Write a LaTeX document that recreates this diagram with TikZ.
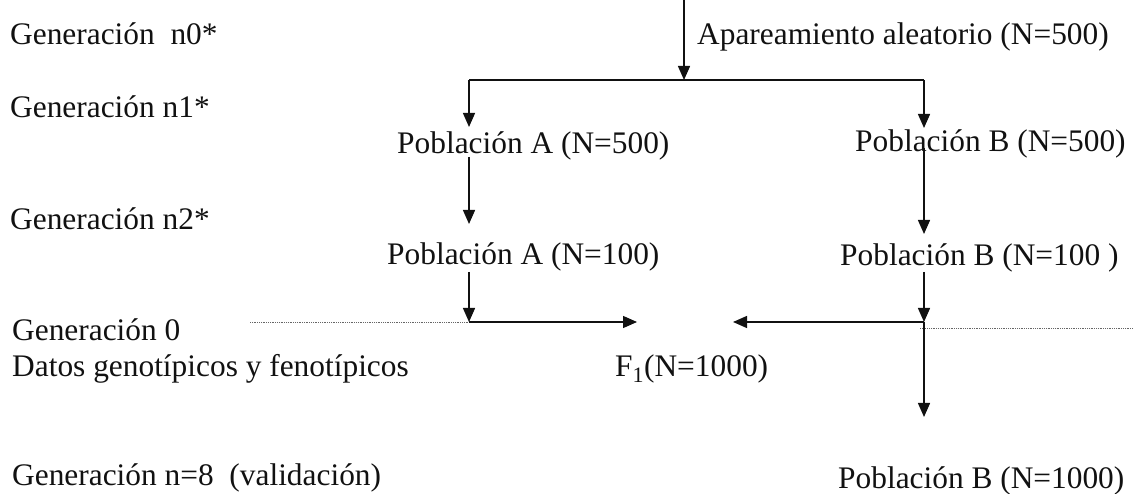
\documentclass[tikz,border=0pt]{standalone}
\usepackage{fontspec}
\setmainfont{Liberation Serif}
\usetikzlibrary{arrows.meta}
\definecolor{lineColor}{HTML}{111111}
\definecolor{labelTextColor}{HTML}{111111}
\definecolor{guideColor}{HTML}{666666}
\def\textGenA{Generación~ n0*}
\def\textGenB{Generación n1*}
\def\textGenC{Generación n2*}
\def\textGenD{Generación 0}
\def\textGenE{Datos genotípicos y fenotípicos}
\def\textGenF{Generación n=8~ (validación)}
\tikzset{
  lbl/.style={anchor=base west, inner sep=0pt, text=labelTextColor,
    font=\fontsize{31.5}{36}\selectfont},
  link/.style={draw=lineColor, line width=1.4bp},
  arr/.style={link, -{Triangle[length=14bp,width=12bp]}},
  guide/.style={draw=guideColor, line width=0.8bp, densely dotted},
}

\begin{document}
\begin{tikzpicture}[x=1bp,y=-1bp]
\useasboundingbox (0, 0) rectangle (1134, 494);

% generation labels
\begin{scope}
\node[lbl] (genA) at (10, 45) {\textGenA};
\node[lbl] (genB) at (10, 118) {\textGenB};
\node[lbl] (genC) at (10, 230) {\textGenC};
\node[lbl] (genD) at (12, 341) {\textGenD};
\node[lbl] (genE) at (12, 377) {\textGenE};
\node[lbl] (genF) at (12, 485) {\textGenF};
\end{scope}

% population labels
\begin{scope}
\node[lbl] (mating) at (697, 45) {Apareamiento aleatorio (N=500)};
\node[lbl] (popAa) at (397, 154) {Población A (N=500)};
\node[lbl] (popBa) at (855, 152) {Población B (N=500)};
\node[lbl] (popAb) at (387, 265) {Población A (N=100)};
\node[lbl] (popBb) at (840, 266) {Población B (N=100 )};
\node[lbl] (cross) at (615, 377) {F\textsubscript{1}(N=1000)};
\node[lbl] (popBc) at (838, 488) {Población B (N=1000)};
\end{scope}

% junction points
\coordinate (topIn) at (684, 0);
\coordinate (split) at (684, 80);
\coordinate (splitA) at (469, 80);
\coordinate (splitB) at (924, 80);
\coordinate (inAa) at (469, 127);
\coordinate (inBa) at (924, 128);
\coordinate (outAa) at (469, 157);
\coordinate (outBa) at (924, 148);
\coordinate (inAb) at (469, 224);
\coordinate (inBb) at (924, 234);
\coordinate (outAb) at (469, 272);
\coordinate (outBb) at (924, 272);
\coordinate (joinA) at (469, 322);
\coordinate (joinB) at (924, 322);
\coordinate (tipA) at (637, 322);
\coordinate (tipB) at (733, 322);
\coordinate (inBc) at (924, 417);

% guide layer
\begin{scope}
\draw[guide] (250, 322) -- (joinA);
\draw[guide] (920, 328) -- (1134, 328);
\end{scope}

% link layer
\begin{scope}
\draw[arr] (topIn) -- (split);
\draw[link] (splitA) -- (splitB);
\draw[arr] (splitA) -- (inAa);
\draw[arr] (splitB) -- (inBa);
\draw[arr] (outAa) -- (inAb);
\draw[arr] (outBa) -- (inBb);
\draw[arr] (outAb) -- (joinA);
\draw[arr] (outBb) -- (joinB);
\draw[arr] (joinA) -- (tipA);
\draw[arr] (joinB) -- (tipB);
\draw[arr] (joinB) -- (inBc);
\end{scope}

\end{tikzpicture}
\end{document}
